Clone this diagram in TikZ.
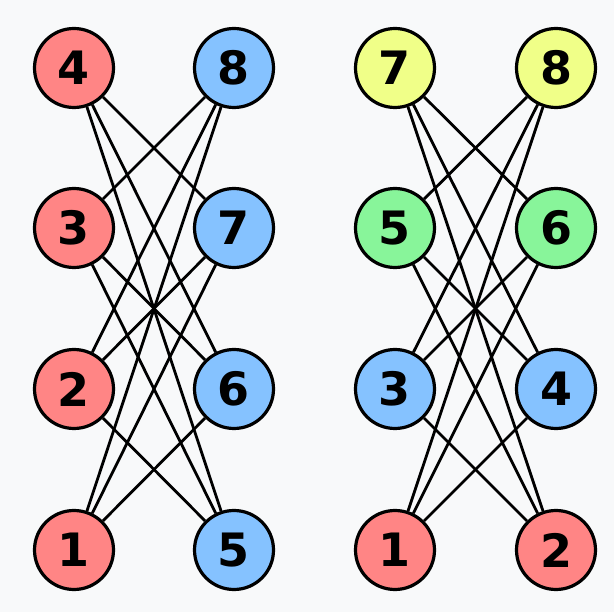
\documentclass[tikz,border=0pt]{standalone}
\usepackage{fontspec}
\setmainfont{DejaVu Sans}
\definecolor{bg}{HTML}{F8F9FA}
\definecolor{vred}{HTML}{FF8585}
\definecolor{vblue}{HTML}{85C2FF}
\definecolor{vyellow}{HTML}{F0FF88}
\definecolor{vgreen}{HTML}{88F59A}
\begin{document}
\begin{tikzpicture}[x=1pt,y=-1pt,
  vtx/.style={circle,draw=black,line width=3.2pt,minimum size=79pt,inner sep=0pt,
    font=\fontsize{46}{46}\selectfont\bfseries},
  edge/.style={line width=2.8pt,black}]
\fill[bg] (0,0) rectangle (614,612);
\useasboundingbox (0,0) rectangle (614,612);
% left graph
\node[vtx,fill=vred] (L4) at (74,68) {4};
\node[vtx,fill=vred] (L3) at (74,228) {3};
\node[vtx,fill=vred] (L2) at (74,389) {2};
\node[vtx,fill=vred] (L1) at (74,550) {1};
\node[vtx,fill=vblue] (L8) at (234,68) {8};
\node[vtx,fill=vblue] (L7) at (234,228) {7};
\node[vtx,fill=vblue] (L6) at (234,389) {6};
\node[vtx,fill=vblue] (L5) at (234,550) {5};
% right graph
\node[vtx,fill=vyellow] (R7) at (395,68) {7};
\node[vtx,fill=vyellow] (R8) at (556,68) {8};
\node[vtx,fill=vgreen] (R5) at (395,228) {5};
\node[vtx,fill=vgreen] (R6) at (556,228) {6};
\node[vtx,fill=vblue] (R3) at (395,389) {3};
\node[vtx,fill=vblue] (R4) at (556,389) {4};
\node[vtx,fill=vred] (R1) at (395,550) {1};
\node[vtx,fill=vred] (R2) at (556,550) {2};
% edges
\foreach \a/\b in {L4/L7,L4/L6,L4/L5,L3/L8,L3/L6,L3/L5,L2/L8,L2/L7,L2/L5,L1/L8,L1/L7,L1/L6,
  R7/R6,R7/R4,R7/R2,R5/R8,R5/R4,R5/R2,R3/R8,R3/R6,R3/R2,R1/R8,R1/R6,R1/R4}
  \draw[edge] (\a) -- (\b);
\end{tikzpicture}
\end{document}
